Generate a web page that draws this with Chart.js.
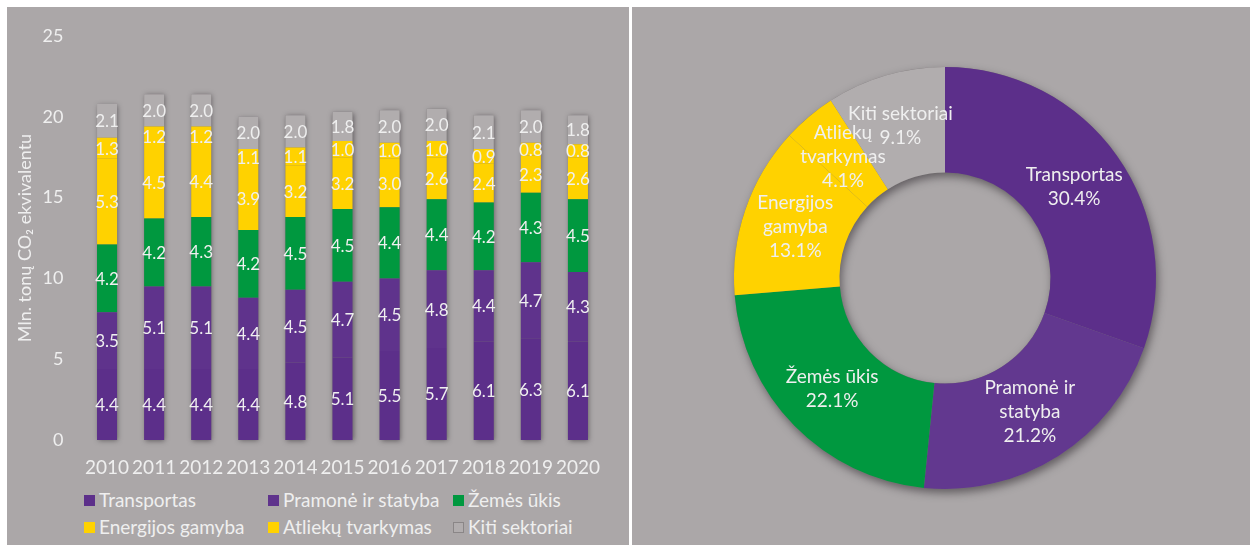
<!DOCTYPE html>
<html><head><meta charset="utf-8">
<script src="https://cdn.jsdelivr.net/npm/chart.js@4.4.0/dist/chart.umd.min.js"></script>
<style>
html,body{margin:0;padding:0;background:#fff;width:1250px;height:545px;overflow:hidden;font-family:Lato,"Open Sans",sans-serif;}
.panel{position:absolute;background:#aba7a8;}
#leftPanel{left:7px;top:7px;width:622px;height:538px;}
#rightPanel{left:632px;top:7px;width:618px;height:538px;}
#barCanvasWrap{position:absolute;left:0;top:0;width:629px;height:482px;}
#donutWrap{position:absolute;left:632px;top:7px;width:618px;height:538px;}
.leg{position:absolute;font-size:19px;color:#efefef;white-space:nowrap;line-height:22px;}
.leg i{position:absolute;width:11px;height:11px;top:6px;box-sizing:border-box;}
</style>
</head><body>
<div class="panel" id="leftPanel"></div>
<div class="panel" id="rightPanel"></div>
<div id="barCanvasWrap"><canvas id="bar"></canvas></div>
<div id="donutWrap"><canvas id="donut"></canvas></div>
<div id="legend"></div>
<script>
const years = ['2010','2011','2012','2013','2014','2015','2016','2017','2018','2019','2020'];
const transportas = [4.4,4.4,4.4,4.4,4.8,5.1,5.5,5.7,6.1,6.3,6.1];
const pramone     = [3.5,5.1,5.1,4.4,4.5,4.7,4.5,4.8,4.4,4.7,4.3];
const zemesUkis   = [4.2,4.2,4.3,4.2,4.5,4.5,4.4,4.4,4.2,4.3,4.5];
const energijos   = [5.3,4.5,4.4,3.9,3.2,3.2,3.0,2.6,2.4,2.3,2.6];
const atlieku     = [1.3,1.2,1.2,1.1,1.1,1.0,1.0,1.0,0.9,0.8,0.8];
const kiti        = [2.1,2.0,2.0,2.0,2.0,1.8,2.0,2.0,2.1,2.0,1.8];
const seriesNames = ['Transportas','Pramonė ir statyba','Žemės ūkis','Energijos gamyba','Atliekų tvarkymas','Kiti sektoriai'];
const shares2020  = [30.4,21.2,22.1,13.1,4.1,9.1];
const donutLabelLines = [['Transportas'],['Pramonė ir','statyba'],['Žemės ūkis'],['Energijos','gamyba'],['Atliekų','tvarkymas'],['Kiti sektoriai']];
const yTickValues = [0,5,10,15,20,25];
const yTitle = 'Mln. tonų CO₂ ekvivalentu';

const colors = ['#5c2f8a','#5f338c','#00983f','#ffd200','#ffd200','#b1adae'];
const donutColors = ['#5c2f8a','#62388f','#00983f','#ffd200','#ffd200','#b1adae'];
const textColor = '#efefef';
const FONT = 'Lato, "Open Sans", sans-serif';

const seriesValues = [transportas, pramone, zemesUkis, energijos, atlieku, kiti];

// Legend (HTML)
const legCols = [84, 268, 453];
const legRows = [489, 516];
const legend = document.getElementById('legend');
seriesNames.forEach((n, i) => {
  const d = document.createElement('div');
  d.className = 'leg';
  d.style.left = legCols[i % 3] + 'px';
  d.style.top = legRows[Math.floor(i / 3)] + 'px';
  d.style.paddingLeft = '15px';
  const m = document.createElement('i');
  m.style.left = '0px';
  m.style.background = colors[i];
  if (i === 5) m.style.border = '1px solid #8a8687';
  d.appendChild(m);
  d.appendChild(document.createTextNode(n));
  legend.appendChild(d);
});

// Bar chart plugins
const barShadow = {
  id: 'barShadow',
  beforeDatasetsDraw(chart) {
    const ctx = chart.ctx, y = chart.scales.y;
    const meta0 = chart.getDatasetMeta(0);
    ctx.save();
    ctx.shadowColor = 'rgba(50,45,50,0.6)';
    ctx.shadowBlur = 5;
    ctx.shadowOffsetX = 1;
    ctx.shadowOffsetY = 1;
    ctx.fillStyle = '#7a7677';
    meta0.data.forEach((bar, i) => {
      const total = chart.data.datasets.reduce((s, d) => s + d.data[i], 0);
      const top = y.getPixelForValue(total), bottom = y.getPixelForValue(0);
      ctx.fillRect(bar.x - bar.width / 2, top, bar.width, bottom - top);
    });
    ctx.restore();
  }
};
const segLabels = {
  id: 'segLabels',
  afterDatasetsDraw(chart) {
    const ctx = chart.ctx;
    ctx.save();
    ctx.font = '17px ' + FONT;
    ctx.fillStyle = textColor;
    ctx.textAlign = 'center';
    ctx.textBaseline = 'middle';
    chart.data.datasets.forEach((ds, di) => {
      chart.getDatasetMeta(di).data.forEach((bar, i) => {
        const c = bar.getCenterPoint();
        ctx.fillText(ds.data[i].toFixed(1), c.x, c.y + 1);
      });
    });
    ctx.restore();
  }
};

new Chart(document.getElementById('bar'), {
  type: 'bar',
  data: {
    labels: years,
    datasets: seriesValues.map((v, i) => ({
      label: seriesNames[i], data: v, backgroundColor: colors[i], borderWidth: 0,
      barPercentage: 0.425, categoryPercentage: 1
    }))
  },
  options: {
    responsive: true, maintainAspectRatio: false, animation: false,
    layout: { padding: { top: 36, right: 27.5, bottom: 0, left: 0 } },
    plugins: { legend: { display: false }, tooltip: { enabled: false } },
    scales: {
      x: {
        stacked: true,
        grid: { display: false, drawTicks: false },
        border: { display: false },
        ticks: { color: textColor, font: { family: FONT, size: 19 }, padding: 16, maxRotation: 0 },
        afterFit(s) { s.height = 42; }
      },
      y: {
        stacked: true, min: 0, max: 25,
        afterBuildTicks(s) { s.ticks = yTickValues.map(v => ({ value: v })); },
        grid: { display: false, drawTicks: false },
        border: { display: false },
        ticks: { color: textColor, font: { family: FONT, size: 18 }, padding: 20 },
        title: { display: true, text: yTitle, color: textColor, font: { family: FONT, size: 18 }, padding: { top: 14, bottom: 0 } },
        afterFit(s) { s.width = 83.5; }
      }
    }
  },
  plugins: [barShadow, segLabels]
});

// Doughnut plugins
const ringShadow = {
  id: 'ringShadow',
  beforeDatasetsDraw(chart) {
    const a = chart.getDatasetMeta(0).data[0];
    if (!a) return;
    const p = a.getProps(['x', 'y', 'innerRadius', 'outerRadius']);
    const ctx = chart.ctx;
    ctx.save();
    ctx.shadowColor = 'rgba(40,35,40,0.55)';
    ctx.shadowBlur = 8;
    ctx.shadowOffsetX = 2;
    ctx.shadowOffsetY = 4;
    ctx.fillStyle = '#7a7677';
    ctx.beginPath();
    ctx.arc(p.x, p.y, p.outerRadius, 0, Math.PI * 2);
    ctx.arc(p.x, p.y, p.innerRadius, Math.PI * 2, 0, true);
    ctx.closePath();
    ctx.fill('evenodd');
    ctx.restore();
  }
};
const arcLabels = {
  id: 'arcLabels',
  afterDatasetsDraw(chart) {
    const ctx = chart.ctx;
    const ds = chart.data.datasets[0];
    ctx.save();
    ctx.font = '19px ' + FONT;
    ctx.fillStyle = textColor;
    ctx.textAlign = 'center';
    ctx.textBaseline = 'middle';
    chart.getDatasetMeta(0).data.forEach((arc, i) => {
      const c = arc.getCenterPoint();
      const lines = donutLabelLines[i].concat([ds.data[i].toFixed(1) + '%']);
      const lh = 24;
      const y0 = c.y - (lines.length - 1) * lh / 2;
      lines.forEach((t, k) => ctx.fillText(t, c.x, y0 + k * lh));
    });
    ctx.restore();
  }
};

new Chart(document.getElementById('donut'), {
  type: 'doughnut',
  data: {
    labels: seriesNames,
    datasets: [{
      data: shares2020,
      backgroundColor: donutColors,
      borderWidth: 0, hoverOffset: 0, clip: false
    }]
  },
  options: {
    responsive: true, maintainAspectRatio: false, animation: false,
    cutout: '50%',
    layout: { padding: { top: 60, bottom: 56, left: 102, right: 94 } },
    plugins: { legend: { display: false }, tooltip: { enabled: false } }
  },
  plugins: [ringShadow, arcLabels]
});
</script>
</body></html>
